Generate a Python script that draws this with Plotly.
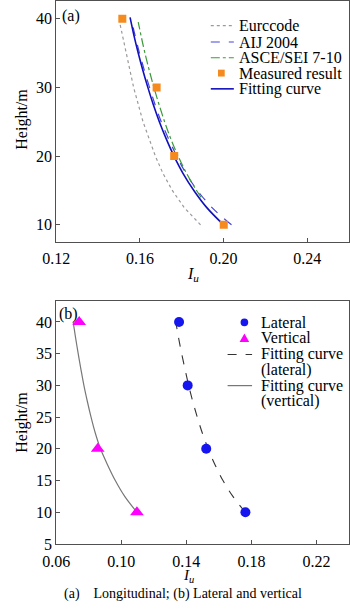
import plotly.graph_objects as go

W, H = 350, 613

# ---------------- data: panel (a) longitudinal ----------------
meas_h = [40, 30, 20, 10]
meas_iu = [0.1516, 0.1680, 0.1764, 0.2001]

fit_a_h = [10, 12.5, 15, 17.5, 20, 22.5, 25, 27.5, 30, 32.5, 35, 37.5, 40.2]
fit_a_iu = [0.2000, 0.1920, 0.1858, 0.1806, 0.1763, 0.1726, 0.1693, 0.1664,
            0.1638, 0.1614, 0.1592, 0.1572, 0.1553]

aij_h = [10, 12.5, 15, 17.5, 20, 25, 30, 35, 39.2]
aij_iu = [0.2038, 0.1945, 0.1875, 0.1820, 0.1776, 0.1702, 0.1646, 0.1598, 0.1564]

asce_h = [14, 15, 17.5, 20, 22.5, 25, 30, 35, 39.5]
asce_iu = [0.1893, 0.1871, 0.1823, 0.1783, 0.1748, 0.1718, 0.1667, 0.1624, 0.1592]

euro_h = [10, 12.5, 15, 17.5, 20, 22.5, 25, 30, 35, 39.5]
euro_iu = [0.1890, 0.1812, 0.1755, 0.1710, 0.1674, 0.1643, 0.1615, 0.1570, 0.1533, 0.1503]

# ---------------- data: panel (b) lateral & vertical ----------------
lat_h = [40, 30, 20, 10]
lat_iu = [0.1355, 0.1408, 0.1522, 0.1763]
vert_h = [40, 20, 10]
vert_iu = [0.0741, 0.0855, 0.1096]

fit_lat_h = [10, 12.5, 15, 17.5, 20, 22.5, 25, 27.5, 30, 32.5, 35, 37.5, 40]
fit_lat_iu = [0.1763, 0.1686, 0.1625, 0.1576, 0.1534, 0.1498, 0.1467, 0.1439,
              0.1414, 0.1392, 0.1371, 0.1352, 0.1335]
fit_vert_h = [10, 12.5, 15, 17.5, 20, 22.5, 25, 27.5, 30, 32.5, 35, 37.5, 40]
fit_vert_iu = [0.1096, 0.1021, 0.0963, 0.0915, 0.0872, 0.0840, 0.0814, 0.0791,
               0.0770, 0.0752, 0.0735, 0.0719, 0.0704]

xticks_a = [0.12, 0.16, 0.20, 0.24]
yticks_a = [10, 20, 30, 40]
xticks_b = [0.06, 0.10, 0.14, 0.18, 0.22]
yticks_b = [5, 10, 15, 20, 25, 30, 35, 40]

FONT = "Liberation Serif"
ORANGE = "#F58A1F"
BLUE_FIT = "#1111BB"
BLUE_AIJ = "#4444DD"
GREEN = "#3C9A3C"
GREY = "#9A9A9A"
AXC = "#505050"


def px(x):
    return x / W


def py(y):
    return 1 - y / H


fig = go.Figure()

# panel (a)
fig.add_trace(go.Scatter(x=euro_iu, y=euro_h, mode="lines", xaxis="x", yaxis="y",
                         line=dict(color=GREY, width=1.2, dash="dot"), showlegend=False))
fig.add_trace(go.Scatter(x=aij_iu, y=aij_h, mode="lines", xaxis="x", yaxis="y",
                         line=dict(color=BLUE_AIJ, width=1.2, dash="dash", shape="spline"),
                         showlegend=False))
fig.add_trace(go.Scatter(x=asce_iu, y=asce_h, mode="lines", xaxis="x", yaxis="y",
                         line=dict(color=GREEN, width=1.2, dash="dashdot", shape="spline"),
                         showlegend=False))
fig.add_trace(go.Scatter(x=fit_a_iu, y=fit_a_h, mode="lines", xaxis="x", yaxis="y",
                         line=dict(color=BLUE_FIT, width=1.6, shape="spline"), showlegend=False))
fig.add_trace(go.Scatter(x=meas_iu, y=meas_h, mode="markers", xaxis="x", yaxis="y",
                         marker=dict(symbol="square", size=8, color=ORANGE), showlegend=False))

# panel (b)
fig.add_trace(go.Scatter(x=fit_lat_iu, y=fit_lat_h, mode="lines", xaxis="x2", yaxis="y2",
                         line=dict(color="#333333", width=1.1, dash="dash", shape="spline"),
                         showlegend=False))
fig.add_trace(go.Scatter(x=fit_vert_iu, y=fit_vert_h, mode="lines", xaxis="x2", yaxis="y2",
                         line=dict(color="#777777", width=1.2, shape="spline"), showlegend=False))
fig.add_trace(go.Scatter(x=lat_iu, y=lat_h, mode="markers", xaxis="x2", yaxis="y2",
                         marker=dict(symbol="circle", size=10, color="#1515F0"), showlegend=False))
fig.add_trace(go.Scatter(x=vert_iu, y=vert_h, mode="markers", xaxis="x2", yaxis="y2",
                         marker=dict(symbol="triangle-up", size=12, color="#FF00FF"),
                         showlegend=False))

axis_common = dict(showline=True, mirror=True, linecolor=AXC, linewidth=1,
                   ticks="inside", ticklen=4, tickcolor=AXC, showgrid=False,
                   zeroline=False, tickfont=dict(family=FONT, size=16, color="black"))

fig.update_layout(
    width=W, height=H, margin=dict(l=0, r=0, t=0, b=0),
    paper_bgcolor="white", plot_bgcolor="white", showlegend=False,
    font=dict(family=FONT, size=16, color="black"),
    xaxis=dict(domain=[px(44), px(349)], range=[0.12, 0.26], tickvals=xticks_a,
               ticktext=[f"{v:.2f}" for v in xticks_a], anchor="y", ticklabelstandoff=2,
               **axis_common),
    yaxis=dict(domain=[py(245), py(0.5)], range=[7.5, 42.5], tickvals=yticks_a,
               anchor="x", **axis_common),
    xaxis2=dict(domain=[px(44), px(349)], range=[0.06, 0.24], tickvals=xticks_b,
                ticktext=[f"{v:.2f}" for v in xticks_b], anchor="y2", ticklabelstandoff=3,
                **axis_common),
    yaxis2=dict(domain=[py(552), py(305)], range=[5, 43.3], tickvals=yticks_b,
                anchor="x2", **axis_common),
)

ann = []


def text(x, y, s, size=16, xanchor="left", angle=0):
    ann.append(dict(x=px(x), y=py(y), xref="paper", yref="paper", text=s, showarrow=False,
                    xanchor=xanchor, yanchor="middle", textangle=angle,
                    font=dict(family=FONT, size=size, color="black")))


# titles and labels
text(8, 120, "Height/m", xanchor="center", angle=-90)
text(8, 428, "Height/m", xanchor="center", angle=-90)
text(186, 278, "<i>I</i><sub><i>u</i></sub>", xanchor="center")
text(182, 585, "<i>I</i><sub><i>u</i></sub>", size=15, xanchor="center")
text(48, 15, "(a)")
text(45, 318, "(b)")
text(176, 603, "(a)&nbsp;&nbsp;&nbsp; Longitudinal; (b) Lateral and vertical", size=14,
     xanchor="center")

# legend (a)
text(232, 25, "Eurccode")
text(232, 41.7, "AIJ 2004")
text(232, 57.7, "ASCE/SEI 7-10")
text(232, 73.3, "Measured result")
text(232, 89.3, "Fitting curve")
# legend (b)
text(255, 326.7, "Lateral")
text(255, 342.5, "Vertical")
text(255, 359, "Fitting curve")
text(255, 375, "(lateral)")
text(255, 391, "Fitting curve")
text(255, 407, "(vertical)")

shapes = []


def seg(x0, x1, y, color, dash, width=1.2):
    shapes.append(dict(type="line", xref="paper", yref="paper", x0=px(x0), x1=px(x1),
                       y0=py(y), y1=py(y), line=dict(color=color, dash=dash, width=width)))


seg(205, 229, 25, GREY, "dot")
seg(205, 229, 41.7, BLUE_AIJ, "dash")
seg(205, 229, 57.7, GREEN, "dashdot")
shapes.append(dict(type="rect", xref="paper", yref="paper", x0=px(212.5), x1=px(219.5),
                   y0=py(76.8), y1=py(69.8), fillcolor=ORANGE, line=dict(width=0)))
seg(205, 229, 89.3, BLUE_FIT, "solid", 1.6)

shapes.append(dict(type="circle", xref="paper", yref="paper", x0=px(236), x1=px(244),
                   y0=py(330.7), y1=py(322.7), fillcolor="#1515F0", line=dict(width=0)))
tri = "M {:.4f},{:.4f} L {:.4f},{:.4f} L {:.4f},{:.4f} Z".format(
    px(235), py(346.5), px(245), py(346.5), px(240), py(338))
shapes.append(dict(type="path", xref="paper", yref="paper", path=tri,
                   fillcolor="#FF00FF", line=dict(width=0)))
seg(222.5, 248, 359.3, "#333333", "dash", 1.1)
seg(222.5, 248, 391, "#777777", "solid", 1.2)

fig.update_layout(annotations=ann, shapes=shapes)

fig.write_html("out.html")
